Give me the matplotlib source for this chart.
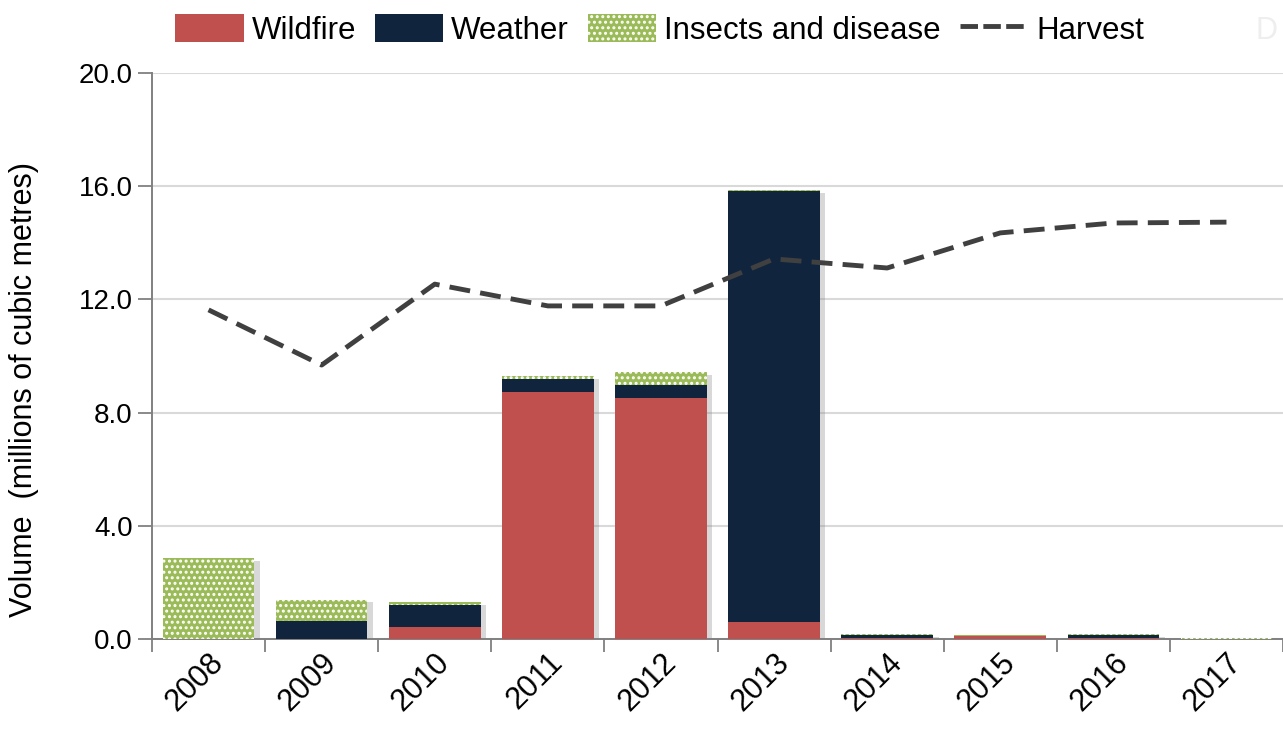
import matplotlib
matplotlib.use("Agg")
import matplotlib.pyplot as plt
import matplotlib.patheffects as pe
import matplotlib.transforms as mtransforms
from matplotlib.patches import Patch
from matplotlib.lines import Line2D
import numpy as np

# Disturbance and harvest volumes (millions of cubic metres)
years = ["2008", "2009", "2010", "2011", "2012", "2013", "2014", "2015", "2016", "2017"]
wildfire = [0.0, 0.0, 0.42, 8.73, 8.52, 0.60, 0.05, 0.10, 0.02, 0.0]
weather = [0.0, 0.65, 0.78, 0.46, 0.47, 15.22, 0.08, 0.0, 0.12, 0.0]
insects = [2.85, 0.74, 0.10, 0.10, 0.45, 0.03, 0.05, 0.05, 0.04, 0.03]
harvest = [11.63, 9.68, 12.54, 11.77, 11.77, 13.43, 13.11, 14.35, 14.70, 14.73]
y_ticks = [0.0, 4.0, 8.0, 12.0, 16.0, 20.0]

C_FIRE = "#C0504D"
C_WEATHER = "#10243E"
C_INSECT = "#9BBB59"
C_HARVEST = "#404040"

plt.rcParams["font.family"] = ["Liberation Sans", "DejaVu Sans"]
plt.rcParams["hatch.linewidth"] = 1.4

fig = plt.figure(figsize=(12.83, 7.29), dpi=100)
ax = fig.add_axes([152 / 1283, 90 / 729, 1 - 152 / 1283, (639 - 73) / 729])

x = np.arange(len(years))
w = 0.81
shadow = [pe.SimplePatchShadow(offset=(4, -2), shadow_rgbFace="#808080", alpha=0.3), pe.Normal()]

ax.bar(x, wildfire, w, color=C_FIRE, linewidth=0, zorder=3)
ax.bar(x, weather, w, bottom=wildfire, color=C_WEATHER, linewidth=0, zorder=3)
base2 = np.array(wildfire) + np.array(weather)
ax.bar(x, insects, w, bottom=base2, facecolor=C_INSECT, edgecolor="white",
       hatch="...", linewidth=0, zorder=3)
totals = base2 + np.array(insects)
# soft drop shadow behind each stacked column
ax.bar(x, totals, w, color="white", linewidth=0, zorder=2.5, path_effects=shadow)

ax.plot(x, harvest, color=C_HARVEST, linewidth=3.5, dashes=(4.3, 2.1),
        solid_capstyle="butt", dash_capstyle="butt", zorder=4)

ax.set_xlim(-0.5, len(years) - 0.5)
ax.set_ylim(0, 20)
ax.set_yticks(y_ticks)
ax.set_yticklabels([f"{v:.1f}" for v in y_ticks], fontsize=20)
ax.yaxis.grid(True, color="#D9D9D9", linewidth=1.5, zorder=0)
ax.set_axisbelow(True)

ax.set_xticks(x)
ax.set_xticklabels(years, fontsize=22, rotation=45, ha="right", rotation_mode="anchor")
offset = mtransforms.ScaledTranslation(0.2, 0.03, fig.dpi_scale_trans)
for lab in ax.get_xticklabels():
    lab.set_transform(lab.get_transform() + offset)
ax.tick_params(axis="x", which="major", length=0, pad=6)
ax.set_xticks(np.arange(-0.5, len(years), 1.0), minor=True)
ax.tick_params(axis="x", which="minor", length=9, width=1.3, color="#808080", direction="out")
ax.tick_params(axis="y", length=10, width=1.3, color="#808080", direction="out", pad=4)

for s in ["top", "right"]:
    ax.spines[s].set_visible(False)
for s in ["left", "bottom"]:
    ax.spines[s].set_color("#808080")
    ax.spines[s].set_linewidth(1.4)

ax.set_ylabel("Volume  (millions of cubic metres)", fontsize=22)
ax.yaxis.set_label_coords(-0.1, 0.44)

handles = [
    Patch(facecolor=C_FIRE, edgecolor="none"),
    Patch(facecolor=C_WEATHER, edgecolor="none"),
    Patch(facecolor=C_INSECT, edgecolor="white", hatch="...", linewidth=0),
    Line2D([0], [0], color=C_HARVEST, linewidth=3.5, dashes=(3.6, 1.1)),
]
fig.legend(handles, ["Wildfire", "Weather", "Insects and disease", "Harvest"],
           loc="center", bbox_to_anchor=(0.514, 0.959), ncol=4, frameon=False,
           fontsize=22.5, handlelength=2.2, handleheight=1.0, handletextpad=0.25,
           columnspacing=0.6)

fig.text(0.987, 0.957, "D", fontsize=22, color="#EEEEEE", ha="center", va="center")

fig.savefig("out.png", dpi=100, facecolor="white")
